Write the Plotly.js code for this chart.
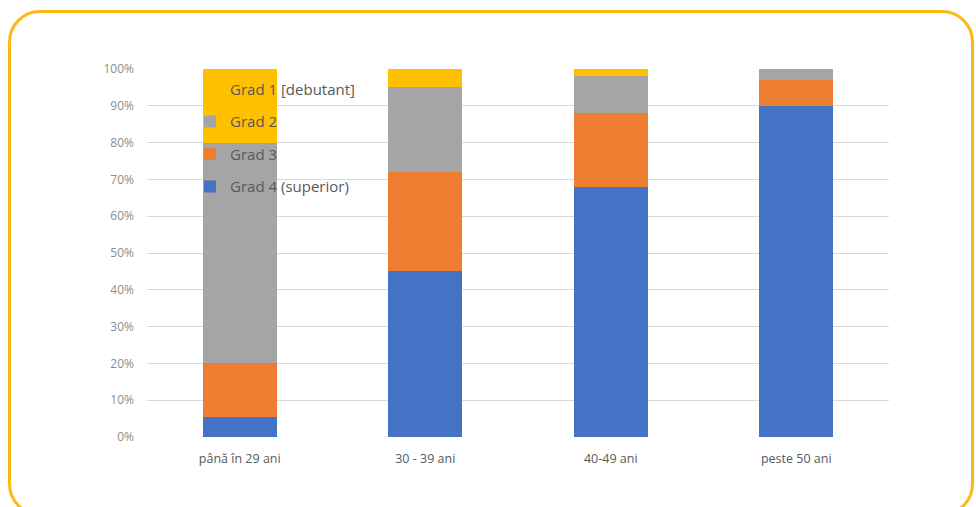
<!DOCTYPE html>
<html>
<head>
<meta charset="utf-8">
<script src="https://cdn.plot.ly/plotly-3.0.1.min.js"></script>
<style>
  html, body { margin: 0; padding: 0; background: #ffffff; }
  #wrap { position: relative; width: 976px; height: 507px; overflow: hidden; }
  #chart { position: absolute; left: 0; top: 0; width: 976px; height: 507px; }
  #frame { position: absolute; left: 8px; top: 10px; width: 960px; height: 500px;
           border: 3px solid #FDB913; border-radius: 32px; pointer-events: none; }
</style>
</head>
<body>
<div id="wrap">
  <div id="chart"></div>
  <div id="frame"></div>
</div>
<script>
const categories = ["până în 29 ani", "30 - 39 ani", "40-49 ani", "peste 50 ani"];
const seriesNames = ["Grad 4 (superior)", "Grad 3", "Grad 2", "Grad 1 [debutant]"];
const grad4 = [5.5, 45, 68, 90];
const grad3 = [14.5, 27, 20, 7];
const grad2 = [60, 23, 10, 3];
const grad1 = [20, 5, 2, 0];
const yTickVals = [0, 10, 20, 30, 40, 50, 60, 70, 80, 90, 100];
const yTickText = ["0%", "10%", "20%", "30%", "40%", "50%", "60%", "70%", "80%", "90%", "100%"];

const colors = ["#4472C4", "#ED7D31", "#A5A5A5", "#FFC000"];
const values = [grad4, grad3, grad2, grad1];
const ranks = [4, 3, 2, 1];

const traces = values.map((v, i) => ({
  type: "bar",
  x: categories,
  y: v,
  name: seriesNames[i],
  legendgroup: "g" + i,
  legendrank: ranks[i],
  marker: { color: colors[i], line: { width: 0 } },
  width: 0.4,
  hoverinfo: "name+y"
}));

const layout = {
  width: 976,
  height: 507,
  margin: { l: 147, r: 87, t: 69, b: 70 },
  paper_bgcolor: "#ffffff",
  plot_bgcolor: "#ffffff",
  barmode: "stack",
  font: { family: "'Open Sans', sans-serif", color: "#595959" },
  showlegend: true,
  legend: {
    x: 0.058, y: 0.99, xanchor: "left", yanchor: "top",
    bgcolor: "rgba(0,0,0,0)",
    traceorder: "grouped",
    tracegroupgap: 10,
    font: { size: 15, color: "#595959", family: "'Open Sans', sans-serif" }
  },
  xaxis: {
    type: "category",
    tickfont: { size: 12.5, color: "#595959" },
    showgrid: false,
    zeroline: false,
    showline: false,
    ticks: "",
    ticklabelstandoff: 12
  },
  yaxis: {
    range: [0, 100],
    tickvals: yTickVals,
    ticktext: yTickText,
    tickfont: { size: 12, color: "#8c8c8c" },
    gridcolor: "#d9d9d9",
    gridwidth: 1,
    zeroline: false,
    showline: false,
    ticks: "",
    ticklabelstandoff: 12
  }
};

Plotly.newPlot("chart", traces, layout, { displayModeBar: false, staticPlot: true });
</script>
</body>
</html>
